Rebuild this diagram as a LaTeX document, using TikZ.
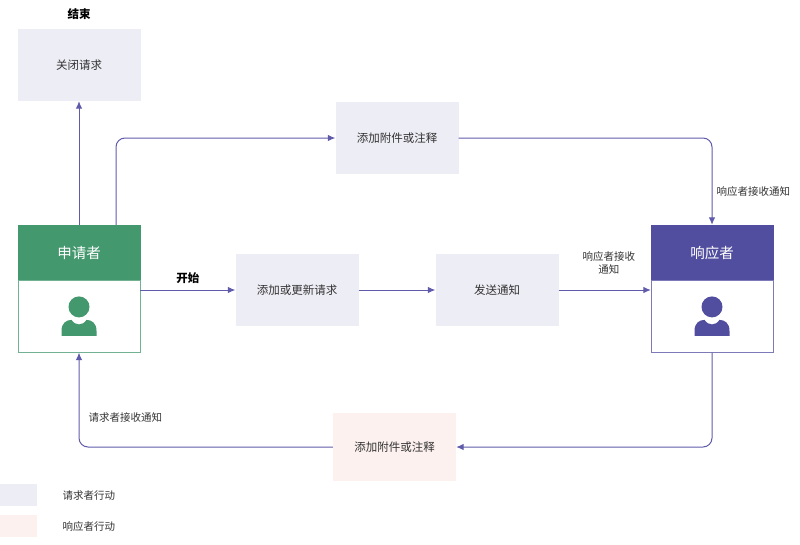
\documentclass[tikz,border=0pt]{standalone}
\usepackage{fontspec}
\setmainfont{Noto Sans CJK SC}
\usetikzlibrary{calc}
\usetikzlibrary{arrows.meta}

\definecolor{reqgreen}{HTML}{43986E}
\definecolor{respblue}{HTML}{524E9F}
\definecolor{flowline}{HTML}{5F5AAA}
\definecolor{actblue}{HTML}{EDEDF5}
\definecolor{actpink}{HTML}{FCF1EF}
\definecolor{txtgray}{HTML}{333333}

\begin{document}
\begin{tikzpicture} [x=1pt, y=-1pt,
  act/.style={fill=actblue, minimum width=123pt, minimum height=72pt, inner sep=0pt, text=txtgray, font=\fontsize{11.5}{14}\selectfont},
  respact/.style={act, fill=actpink},
  head/.style={minimum width=123pt, minimum height=55pt, inner sep=0pt, text=white, font=\fontsize{14.5}{17}\selectfont},
  flow/.style={draw=flowline, line width=1pt, rounded corners=9pt, -{Latex[length=7.5pt, width=6.5pt]}},
  lbl/.style={text=txtgray, font=\fontsize{10.5}{13}\selectfont, inner sep=2pt}]
\useasboundingbox (0,0) rectangle (800,544);

% actors
\node[head, fill=reqgreen] (reqhead) at (79,252.5) {申请者};
\node[draw=reqgreen!75, fill=white, minimum width=122pt, minimum height=72pt, anchor=north] (reqbody) at (reqhead.south) {};
\node[head, fill=respblue] (resphead) at (712,252.5) {响应者};
\node[draw=respblue!75, fill=white, minimum width=122pt, minimum height=72pt, anchor=north] (respbody) at (resphead.south) {};

\foreach \p/\c in {reqbody/reqgreen, respbody/respblue} {
  \fill[\c] ($(\p.center)+(0,-9.5)$) circle (10.5);
  \fill[\c] ($(\p.center)+(-17.5,19.5)$) -- ++(0,-5) .. controls ++(0,-8) and ++(-5,0) .. ++(10,-11) .. controls ++(2,3) and ++(-3,0) .. ++(7.5,4.5) .. controls ++(3,0) and ++(-2,3) .. ++(7.5,-4.5) .. controls ++(5,0) and ++(0,-8) .. ++(10,11) -- ++(0,5) -- cycle;
}

% actions
\node[act] (close) at (79,65) {关闭请求};
\node[act] (notetop) at (397,138) {添加附件或注释};
\node[act] (addreq) at (297,290) {添加或更新请求};
\node[act] (send) at (497,290) {发送通知};
\node[respact, minimum height=68pt] (notebot) at (394.5,447) {添加附件或注释};

\node[lbl, font=\fontsize{11.5}{14}\selectfont\bfseries, text=black] (endlbl) at (79,14) {结束};

% connectors
\draw[flow] (reqhead.north) -- (close.south);
\draw[flow] ($(reqhead.north)+(37,0)$) |- (notetop.west);
\draw[flow] (notetop.east) -| (resphead.north) node[lbl, pos=.81, anchor=west, xshift=2pt] {响应者接收通知};
\draw[flow] (reqbody.east |- addreq.west) -- (addreq.west) node[lbl, midway, above=4pt, text=black, font=\fontsize{11.5}{14}\selectfont\bfseries] {开始};
\draw[flow] (addreq.east) -- (send.west);
\draw[flow] (send.east) -- (respbody.west |- send.east) node[lbl, midway, above=13pt, align=center, xshift=4pt] {响应者接收\\通知};
\draw[flow] (respbody.south) |- (notebot.east);
\draw[flow] (notebot.west) -| (reqbody.south) node[lbl, pos=.655, anchor=west, xshift=7pt] {请求者接收通知};

% legend
\node[fill=actblue, minimum width=37pt, minimum height=22pt, inner sep=0pt, anchor=north west] (legreq) at (0,484) {};
\node[lbl, anchor=west] (legreqtxt) at ($(legreq.east)+(23,0)$) {请求者行动};
\node[fill=actpink, minimum width=37pt, minimum height=22pt, inner sep=0pt, anchor=north west] (legresp) at (0,515) {};
\node[lbl, anchor=west] (legresptxt) at ($(legresp.east)+(23,0)$) {响应者行动};

\end{tikzpicture}
\end{document}
